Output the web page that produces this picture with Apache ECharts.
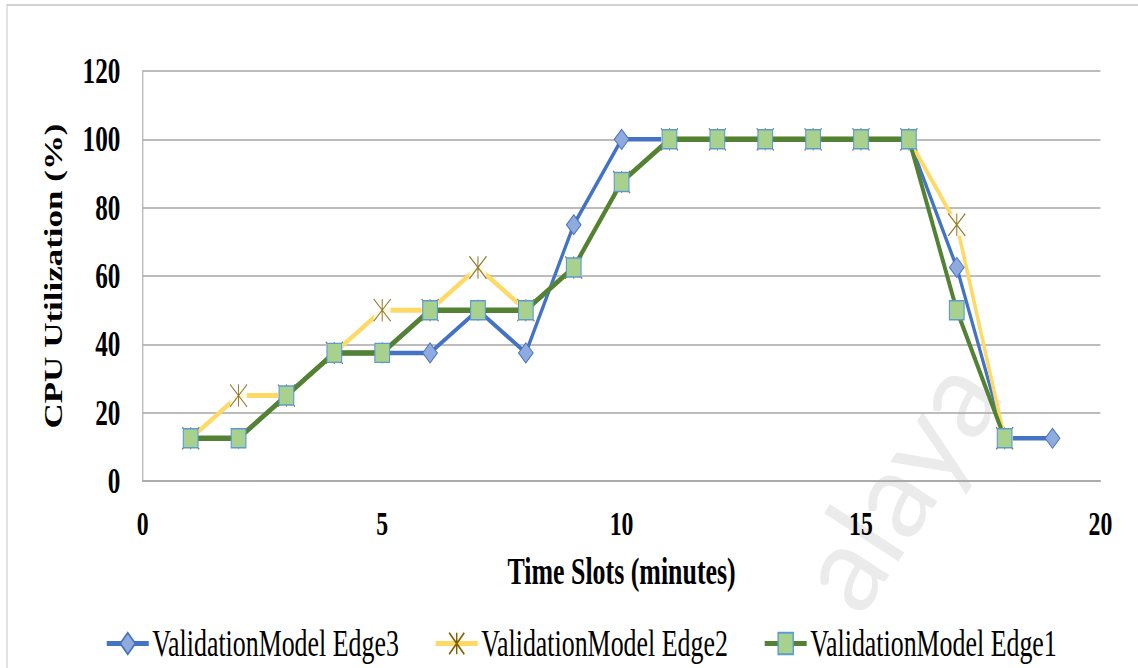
<!DOCTYPE html>
<html><head><meta charset="utf-8">
<script src="https://cdn.jsdelivr.net/npm/echarts@6/dist/echarts.min.js"></script>
<style>
html,body{margin:0;padding:0;background:#fff;width:1138px;height:668px;overflow:hidden;position:relative;}
#wm{position:absolute;left:895px;top:482px;line-height:1;font-family:Lato,'Open Sans',sans-serif;font-size:120px;color:#ebebeb;transform:translate(-50%,-50%) rotate(-57deg);white-space:nowrap;z-index:0;}
#chart{position:absolute;left:0;top:0;width:1626px;height:668px;transform:scaleX(0.7);transform-origin:0 0;z-index:1;}
</style></head><body>
<div id="wm">alaya</div>
<div id="chart"></div>
<script>
const timeSlots = [1,2,3,4,5,6,7,8,9,10,11,12,13,14,15,16,17,18,19];
const edge3 = [12.5,12.5,25,37.5,37.5,37.5,50,37.5,75,100,100,100,100,100,100,100,62.5,12.5,12.5];
const edge2 = [12.5,25,25,37.5,50,50,62.5,50,62.5,87.5,100,100,100,100,100,100,75,12.5];
const edge1 = [12.5,12.5,25,37.5,37.5,50,50,50,62.5,87.5,100,100,100,100,100,100,50,12.5];
const seriesNames = ['ValidationModel Edge3','ValidationModel Edge2','ValidationModel Edge1'];
const xTicks = [0,5,10,15,20];
const yTicks = [0,20,40,60,80,100,120];

const FONT = "'Liberation Serif','Times New Roman',serif";
const starPath = 'path://M0,0L24,22M24,0L0,22M12,0L12,22';
const pairs = ys => ys.map((y,i) => [timeSlots[i], y]);

const chart = echarts.init(document.getElementById('chart'), null, {renderer:'svg', width:1626, height:668});
const labelStyle = {fontFamily:FONT, fontWeight:'bold', color:'#000'};
chart.setOption({
  animation:false,
  backgroundColor:'transparent',
  graphic:[{type:'rect', silent:true, z:-10, shape:{x:10,y:5,width:3000,height:1000}, style:{fill:'none', stroke:'#c4c4c4', lineWidth:1.4}}],
  grid:{left:204, right:54, top:71, bottom:187},
  xAxis:{
    type:'value', min:xTicks[0], max:xTicks[xTicks.length-1], interval:xTicks[1]-xTicks[0],
    axisLine:{show:true, lineStyle:{color:'#a6a6a6', width:1.5}}, axisTick:{show:false}, splitLine:{show:false},
    axisLabel:Object.assign({fontSize:34, margin:25}, labelStyle),
    name:'Time Slots (minutes)', nameLocation:'middle', nameGap:72,
    nameTextStyle:Object.assign({fontSize:37}, labelStyle)
  },
  yAxis:{
    type:'value', min:yTicks[0], max:yTicks[yTicks.length-1], interval:yTicks[1]-yTicks[0],
    axisLine:{show:true, lineStyle:{color:'#a6a6a6', width:1.5}}, axisTick:{show:false},
    splitLine:{show:true, lineStyle:{color:'#a6a6a6', width:1.5}},
    axisLabel:Object.assign({fontSize:36, margin:32}, labelStyle),
    name:'CPU Utilization (%)', nameLocation:'middle', nameGap:110,
    nameTextStyle:Object.assign({fontSize:35}, labelStyle)
  },
  legend:{
    data:seriesNames, left:145, top:620, itemWidth:60, itemHeight:27, itemGap:50,
    lineStyle:{width:5},
    textStyle:{fontFamily:FONT, fontSize:37, color:'#000'}
  },
  series:[
    {name:seriesNames[0], type:'line', z:2, data:pairs(edge3), symbol:'diamond', symbolSize:[21,20],
     lineStyle:{color:'#4472C4', width:4.5}, itemStyle:{color:'#8FAADC', borderColor:'#4472C4', borderWidth:1.2}},
    {name:seriesNames[1], type:'line', z:2, data:pairs(edge2), symbol:starPath, symbolSize:[24,22],
     lineStyle:{color:'#FFD966', width:5}, itemStyle:{color:'#7F6000', borderColor:'#7F6000', borderWidth:1.3}},
    {name:'_mask', type:'scatter', z:3, silent:true, data:pairs(edge2), symbol:'rect', symbolSize:[24,22],
     itemStyle:{color:'#ffffff'}},
    {name:'_stars', type:'scatter', z:4, silent:true, data:pairs(edge2), symbol:starPath, symbolSize:[24,22],
     itemStyle:{color:'#7F6000', borderColor:'#7F6000', borderWidth:1.3}},
    {name:seriesNames[2], type:'line', z:5, data:pairs(edge1), symbol:'rect', symbolSize:[21,19],
     lineStyle:{color:'#548235', width:5.5}, itemStyle:{color:'#A9D18E', borderColor:'#5B9BD5', borderWidth:1.5}}
  ]
});
</script>
</body></html>
